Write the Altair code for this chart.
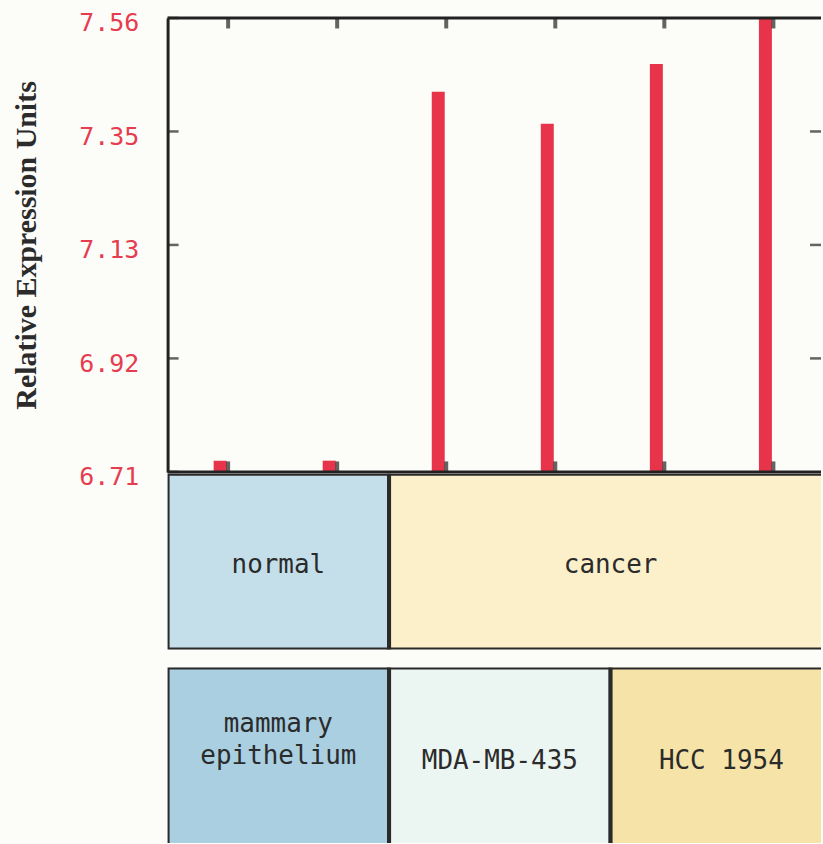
import altair as alt
import pandas as pd

# ---- data ----
samples = ["S1", "S2", "S3", "S4", "S5", "S6"]
values = [6.731, 6.731, 7.422, 7.362, 7.474, 7.56]
tissue = ["normal", "normal", "cancer", "cancer", "cancer", "cancer"]
cell_line = ["mammary epithelium", "mammary epithelium", "MDA-MB-435",
             "MDA-MB-435", "HCC 1954", "HCC 1954"]

y_ticks = [6.71, 6.9225, 7.135, 7.3475, 7.56]
y_labels = ["6.71", "6.92", "7.13", "7.35", "7.56"]

tissue_names = ["normal", "cancer"]
tissue_colors = ["#c4dfe9", "#fbf0c9"]
cell_names = ["mammary epithelium", "MDA-MB-435", "HCC 1954"]
cell_colors = ["#a9cfe1", "#ebf5f1", "#f6e3a8"]

# ---- style ----
RED = "#e8344a"
LABEL_RED = "#e63c50"
DARK = "#222222"
TEXT_DARK = "#2b2b2b"
BG = "#fcfcf8"
MONO = "DejaVu Sans Mono"
W = 655
H_TOP = 455
H_BAND = 176
X_DOMAIN = [0, 5.9]
Y_MIN, Y_MAX = y_ticks[0], y_ticks[-1]
TITLE = "Relative Expression Units"

df = pd.DataFrame({"sample": samples, "idx": list(range(len(samples))),
                   "value": values, "tissue": tissue, "cell": cell_line})
ticks_df = pd.DataFrame({"t": y_ticks})

xs = alt.Scale(domain=X_DOMAIN, nice=False, zero=False)
ys = alt.Scale(domain=[Y_MIN, Y_MAX], nice=False, zero=False)

# label expression from the label list
expr = "''"
for v, lab in reversed(list(zip(y_ticks, y_labels))):
    expr = f"abs(datum.value - {v}) < 0.001 ? '{lab}' : " + expr

y_axis = alt.Axis(values=y_ticks, labelExpr=expr, ticks=False,
                  domain=True, domainColor=DARK, domainWidth=3,
                  grid=False, labelColor=LABEL_RED, labelFont=MONO,
                  labelFontSize=25, labelPadding=29, labelOffset=5,
                  labelFlush=False,
                  titleFont="Liberation Serif", titleFontWeight="bold",
                  titleFontSize=30, titleColor=TEXT_DARK,
                  titlePadding=37)

base = alt.Chart(df).transform_calculate(pos="datum.idx + 0.5")

bars = base.mark_bar(size=13, xOffset=-7, color=RED, clip=True).encode(
    x=alt.X("pos:Q", scale=xs, axis=None),
    y=alt.Y("value:Q", scale=ys, title=TITLE, axis=y_axis),
    y2=alt.datum(Y_MIN),
)

top_ticks = base.mark_tick(thickness=4, size=11, color=DARK, xOffset=1).encode(
    x=alt.X("pos:Q", scale=xs, axis=None), y=alt.value(5))
bottom_ticks = base.mark_tick(thickness=4, size=11, color=DARK, xOffset=1).encode(
    x=alt.X("pos:Q", scale=xs, axis=None), y=alt.value(H_TOP - 5))

left_ticks = alt.Chart(ticks_df).mark_tick(
    orient="horizontal", size=11, thickness=2.5, color=DARK).encode(
    y=alt.Y("t:Q", scale=ys, axis=y_axis, title=TITLE), x=alt.value(5.5))
right_ticks = alt.Chart(ticks_df).transform_filter(
    f"datum.t > {Y_MIN} && datum.t < {Y_MAX}").mark_tick(
    orient="horizontal", size=11, thickness=2.5, color=DARK).encode(
    y=alt.Y("t:Q", scale=ys, axis=y_axis, title=TITLE), x=alt.value(W - 5.5))

border = alt.Chart(pd.DataFrame({"b": [Y_MIN, Y_MAX]})).mark_rule(
    color=DARK, strokeWidth=3).encode(
    y=alt.Y("b:Q", scale=ys, axis=y_axis, title=TITLE))

top = alt.layer(bars, top_ticks, bottom_ticks, left_ticks, right_ticks,
                border).properties(width=W, height=H_TOP)

# ---- band 1: tissue ----
b1 = alt.Chart(df).transform_aggregate(
    start="min(idx)", last="max(idx)", groupby=["tissue"]).transform_calculate(
    end="datum.last + 1", mid="(datum.start + datum.last + 1) / 2")
b1_rect = b1.mark_rect(stroke="#2a2a2a", strokeWidth=4, clip=True).encode(
    x=alt.X("start:Q", scale=xs, axis=None), x2="end:Q",
    color=alt.Color("tissue:N", scale=alt.Scale(domain=tissue_names,
                                                 range=tissue_colors),
                    legend=None))
b1_text = b1.mark_text(font=MONO, fontSize=26, color=TEXT_DARK, dy=3).encode(
    x=alt.X("mid:Q", scale=xs, axis=None), text="tissue:N")
band1 = alt.layer(b1_rect, b1_text).properties(width=W, height=H_BAND)

# ---- band 2: cell line ----
b2 = alt.Chart(df).transform_aggregate(
    start="min(idx)", last="max(idx)", groupby=["cell"]).transform_calculate(
    end="datum.last + 1", mid="(datum.start + datum.last + 1) / 2")
b2_rect = b2.mark_rect(stroke="#2a2a2a", strokeWidth=4, clip=True).encode(
    x=alt.X("start:Q", scale=xs, axis=None), x2="end:Q",
    y=alt.value(0), y2=alt.value(H_BAND + 30),
    color=alt.Color("cell:N", scale=alt.Scale(domain=cell_names,
                                               range=cell_colors),
                    legend=None))
b2_text = b2.transform_filter(f"datum.cell != '{cell_names[0]}'").mark_text(
    font=MONO, fontSize=26, color=TEXT_DARK, dy=6).encode(
    x=alt.X("mid:Q", scale=xs, axis=None), text="cell:N")
b2_text_multi = b2.transform_filter(f"datum.cell == '{cell_names[0]}'").mark_text(
    font=MONO, fontSize=26, color=TEXT_DARK, dy=-31, lineBreak=" ",
    lineHeight=32).encode(
    x=alt.X("mid:Q", scale=xs, axis=None), text="cell:N")
band2 = alt.layer(b2_rect, b2_text, b2_text_multi).properties(
    width=W, height=H_BAND)

bands = alt.vconcat(band1, band2, spacing=18, bounds="flush").resolve_scale(
    color="independent")
chart = alt.vconcat(top, bands, spacing=2, bounds="flush").resolve_scale(
    color="independent").properties(
    padding={"left": 11, "top": 10, "right": 0, "bottom": 0},
    background=BG,
).configure_view(stroke=None)

chart.save("out.html", embed_options={"renderer": "svg", "actions": False})
